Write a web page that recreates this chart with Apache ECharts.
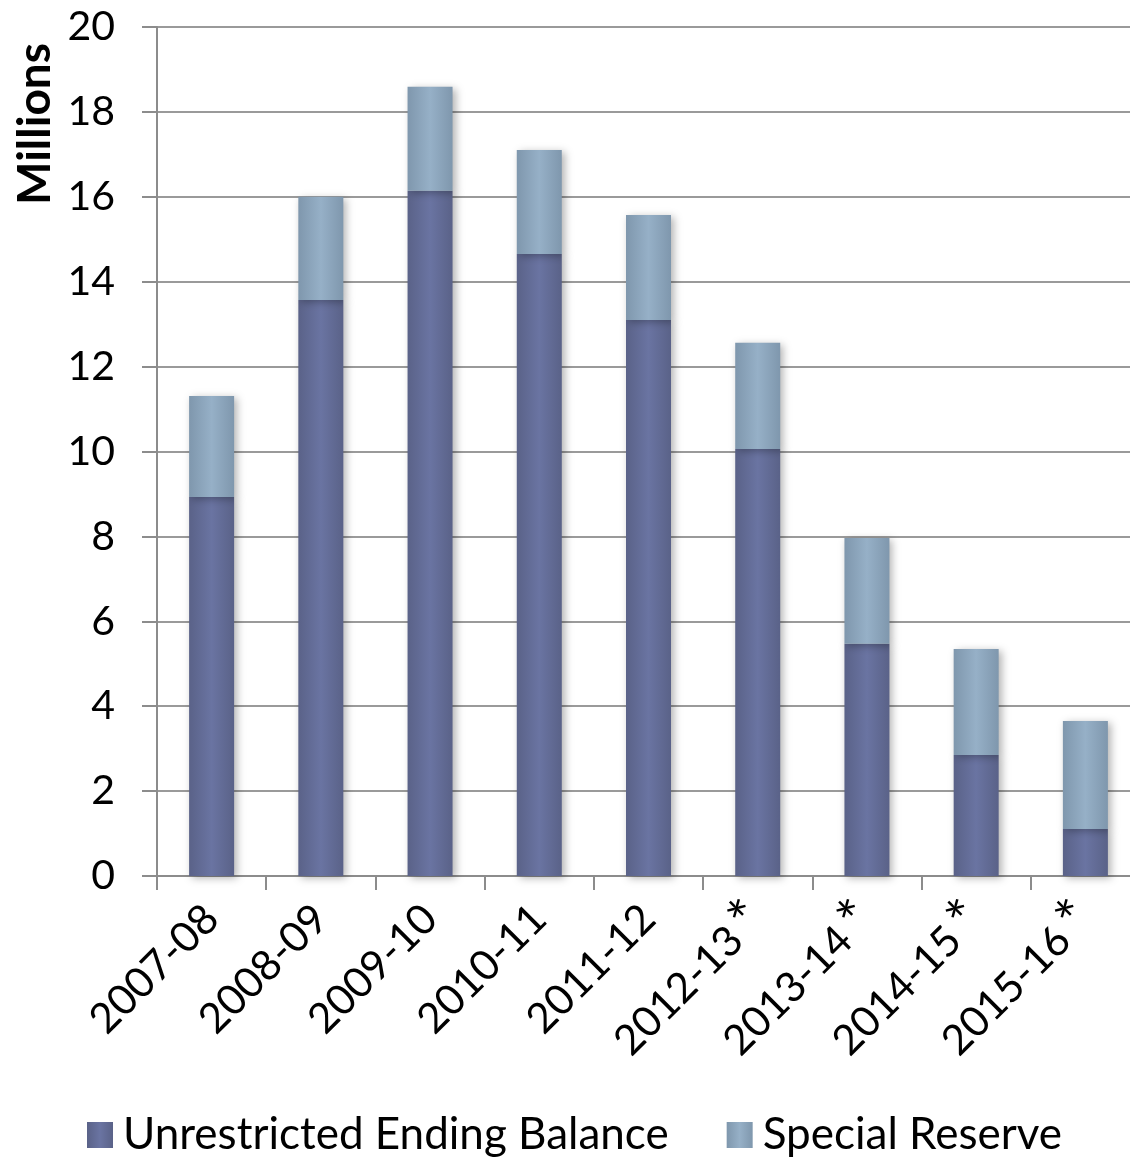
<!DOCTYPE html>
<html>
<head>
<meta charset="utf-8">
<script src="https://cdn.jsdelivr.net/npm/echarts@6/dist/echarts.min.js"></script>
<style>
  html, body { margin: 0; padding: 0; background: #fff; overflow: hidden; }
  #chart { width: 1150px; height: 1159px; }
</style>
</head>
<body>
<div id="chart"></div>
<script>
// Fiscal years (starred years are projections)
var years = ['2007-08', '2008-09', '2009-10', '2010-11', '2011-12', '2012-13*', '2013-14*', '2014-15*', '2015-16*'];
// Balances in millions of dollars
var unrestricted = [8.93, 13.57, 16.14, 14.65, 13.10, 10.06, 5.47, 2.85, 1.11];
var specialReserve = [2.38, 2.43, 2.45, 2.45, 2.47, 2.50, 2.49, 2.50, 2.54];
var yTicks = { min: 0, max: 20, step: 2 };

var FONT = 'Lato, "Open Sans", sans-serif';

function barGradient(edge, mid) {
  return new echarts.graphic.LinearGradient(0, 0, 1, 0, [
    { offset: 0, color: edge },
    { offset: 0.5, color: mid },
    { offset: 1, color: edge }
  ]);
}

// Projected years carry a raised asterisk after the year range
function yearLabel(v) {
  if (v.charAt(v.length - 1) === '*') {
    return '{n|' + v.slice(0, -1) + '}{s|*}';
  }
  return '{n|' + v + '}';
}

var chart = echarts.init(document.getElementById('chart'));
chart.setOption({
  animation: false,
  backgroundColor: '#ffffff',
  grid: { left: 157, right: 10, top: 27, bottom: 283, containLabel: false },
  graphic: [{
    type: 'text',
    x: 12,
    y: 205,
    rotation: Math.PI / 2,
    style: { text: 'Millions', font: 'bold 46px ' + FONT, fill: '#000', textVerticalAlign: 'top' }
  }],
  legend: {
    left: 87,
    top: 1113,
    padding: 0,
    itemWidth: 26,
    itemHeight: 26,
    itemGap: 58,
    icon: 'rect',
    textStyle: { fontFamily: FONT, fontSize: 44, color: '#000', padding: [0, 0, 0, 5] },
    data: ['Unrestricted Ending Balance', 'Special Reserve']
  },
  xAxis: {
    type: 'category',
    data: years,
    axisLine: { lineStyle: { color: '#8c8c8c', width: 2 } },
    axisTick: { show: true, length: 14, lineStyle: { color: '#8c8c8c', width: 2 } },
    axisLabel: {
      rotate: 45,
      margin: 36,
      color: '#000',
      interval: 0,
      formatter: yearLabel,
      rich: {
        n: { fontFamily: FONT, fontSize: 42, color: '#000' },
        s: { fontFamily: FONT, fontSize: 58, color: '#000', padding: [0, 0, 4, 6] }
      }
    }
  },
  yAxis: {
    type: 'value',
    min: yTicks.min,
    max: yTicks.max,
    interval: yTicks.step,
    axisLine: { show: true, lineStyle: { color: '#8c8c8c', width: 2 } },
    axisTick: { show: true, length: 15, lineStyle: { color: '#8c8c8c', width: 2 } },
    splitLine: { show: true, lineStyle: { color: '#9a9a9a', width: 2 } },
    axisLabel: { margin: 42, fontFamily: FONT, fontSize: 41, color: '#000' }
  },
  series: [
    {
      name: 'Unrestricted Ending Balance',
      type: 'bar',
      stack: 'total',
      barWidth: 45,
      data: unrestricted,
      itemStyle: {
        color: barGradient('#5a6288', '#6a74a2'),
        shadowColor: 'rgba(0,0,0,0.3)', shadowBlur: 8, shadowOffsetX: 3, shadowOffsetY: 2
      }
    },
    {
      name: 'Special Reserve',
      type: 'bar',
      stack: 'total',
      barWidth: 45,
      data: specialReserve,
      itemStyle: {
        color: barGradient('#7f97ad', '#96b0c7'),
        shadowColor: 'rgba(0,0,0,0.3)', shadowBlur: 8, shadowOffsetX: 3, shadowOffsetY: 2
      }
    }
  ]
});
</script>
</body>
</html>
